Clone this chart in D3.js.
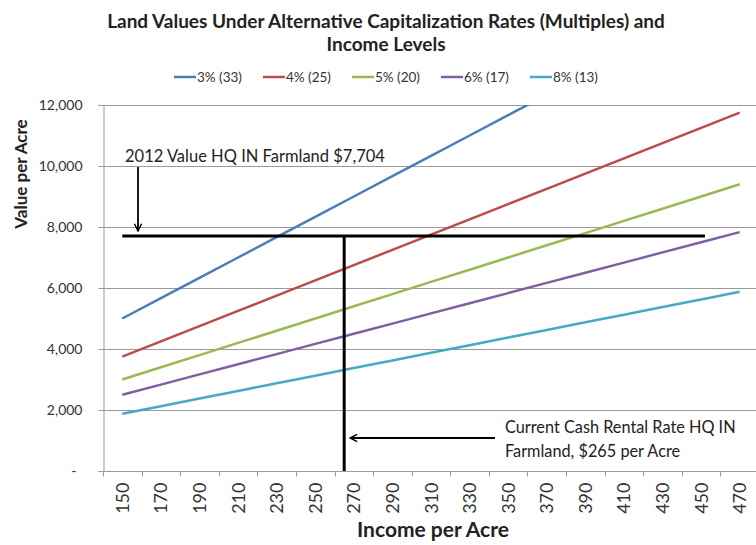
<!DOCTYPE html>
<html>
<head>
<meta charset="utf-8">
<script src="https://cdn.jsdelivr.net/npm/d3@7"></script>
<style>
  body { margin: 0; background: #fff; }
  svg { display: block; font-family: Lato, "Open Sans", sans-serif; }
</style>
</head>
<body>
<div id="chart"></div>
<script>
// income per acre categories
const incomes = [150, 170, 190, 210, 230, 250, 270, 290, 310, 330, 350, 370, 390, 410, 430, 450, 470];

// land value per acre for each cap rate
const rate3 = [5000, 5667, 6333, 7000, 7667, 8333, 9000, 9667, 10333, 11000, 11667, 12333];
const rate4 = [3750, 4250, 4750, 5250, 5750, 6250, 6750, 7250, 7750, 8250, 8750, 9250, 9750, 10250, 10750, 11250, 11750];
const rate5 = [3000, 3400, 3800, 4200, 4600, 5000, 5400, 5800, 6200, 6600, 7000, 7400, 7800, 8200, 8600, 9000, 9400];
const rate6 = [2500, 2833, 3167, 3500, 3833, 4167, 4500, 4833, 5167, 5500, 5833, 6167, 6500, 6833, 7167, 7500, 7833];
const rate8 = [1875, 2125, 2375, 2625, 2875, 3125, 3375, 3625, 3875, 4125, 4375, 4625, 4875, 5125, 5375, 5625, 5875];

const seriesNames = ["3% (33)", "4% (25)", "5% (20)", "6% (17)", "8% (13)"];
const seriesColors = ["#4a7ebb", "#be4b48", "#98b954", "#7d60a0", "#46aac5"];
const yTicks = [0, 2000, 4000, 6000, 8000, 10000, 12000];

// reference marks
const landValue2012 = 7704;
const rentalRate = 265;
const refLineStart = 150, refLineEnd = 452;

const W = 756, H = 545;
const plot = {left: 103, top: 105, right: 759, bottom: 471};

const svg = d3.select("#chart").append("svg")
    .attr("width", W)
    .attr("height", H);

const x = d3.scaleLinear().domain([140, 480]).range([plot.left, plot.right]);
const y = d3.scaleLinear().domain([0, 12000]).range([plot.bottom, plot.top]);

// title
svg.append("text")
  .attr("x", 386).attr("y", 28)
  .attr("text-anchor", "middle")
  .style("font-weight", "bold").style("font-size", "19px").style("fill", "#222")
  .text("Land Values Under Alternative Capitalization Rates (Multiples)  and");
svg.append("text")
  .attr("x", 386).attr("y", 51)
  .attr("text-anchor", "middle")
  .style("font-weight", "bold").style("font-size", "19px").style("fill", "#222")
  .text("Income Levels");

// legend
const legend = svg.append("g");
seriesNames.forEach((name, i) => {
  const lx = 174 + i * 89;
  legend.append("line")
    .attr("x1", lx).attr("x2", lx + 22)
    .attr("y1", 77).attr("y2", 77)
    .attr("stroke", seriesColors[i]).attr("stroke-width", 2.5);
  legend.append("text")
    .attr("x", lx + 23).attr("y", 82)
    .style("font-size", "13.5px").style("fill", "#333")
    .text(name);
});

// gridlines
svg.append("g").selectAll("line")
  .data(yTicks.slice(1))
  .enter().append("line")
    .attr("x1", plot.left).attr("x2", W)
    .attr("y1", d => y(d) + 0.5).attr("y2", d => y(d) + 0.5)
    .attr("stroke", "#9a9a9a").attr("stroke-width", 1);

// y axis
const yAxis = svg.append("g")
  .attr("transform", "translate(" + (plot.left + 0.5) + ",0)")
  .call(d3.axisLeft(y).tickValues(yTicks).tickSize(5).tickPadding(16)
    .tickFormat(d => d === 0 ? "-" : d3.format(",")(d)));
yAxis.select(".domain").attr("stroke", "#9a9a9a");
yAxis.selectAll(".tick line").attr("stroke", "#9a9a9a");
yAxis.selectAll(".tick text")
  .style("font-size", "14px").style("fill", "#333").style("font-family", "Lato, sans-serif");
yAxis.selectAll(".tick text").filter(d => d === 0).attr("dx", -6);

// x axis: ticks at category boundaries, labels at category centres
const boundaries = incomes.map(v => v - 10);
const xAxis = svg.append("g")
  .attr("transform", "translate(0," + (plot.bottom + 0.5) + ")");
xAxis.append("line")
  .attr("x1", plot.left).attr("x2", W)
  .attr("stroke", "#9a9a9a");
xAxis.selectAll(".bt")
  .data(boundaries)
  .enter().append("line")
    .attr("x1", d => Math.round(x(d)) + 0.5).attr("x2", d => Math.round(x(d)) + 0.5)
    .attr("y1", 0).attr("y2", 5)
    .attr("stroke", "#9a9a9a");
xAxis.selectAll(".lbl")
  .data(incomes)
  .enter().append("text")
    .attr("transform", d => "translate(" + (x(d) + 6.5) + ",11) rotate(-90)")
    .attr("text-anchor", "end")
    .style("font-size", "18px").style("fill", "#333")
    .text(d => d);

// axis titles
svg.append("text")
  .attr("transform", "translate(27,174) rotate(-90)")
  .attr("text-anchor", "middle")
  .style("font-weight", "bold").style("font-size", "17px").style("fill", "#222")
  .text("Value per Acre");
svg.append("text")
  .attr("x", 433).attr("y", 537)
  .attr("text-anchor", "middle")
  .style("font-weight", "bold").style("font-size", "21px").style("fill", "#222")
  .text("Income per Acre");

// series lines
svg.append("clipPath").attr("id", "clip")
  .append("rect")
    .attr("x", plot.left).attr("y", plot.top)
    .attr("width", plot.right - plot.left).attr("height", plot.bottom - plot.top);

const allSeries = [rate3, rate4, rate5, rate6, rate8];
const line = d3.line()
  .x((d, i) => x(incomes[i]))
  .y(d => y(d));

svg.append("g").attr("clip-path", "url(#clip)")
  .selectAll("path")
  .data(allSeries)
  .enter().append("path")
    .attr("d", line)
    .attr("fill", "none")
    .attr("stroke", (d, i) => seriesColors[i])
    .attr("stroke-width", 2.5);

// reference lines
svg.append("line")
  .attr("x1", x(refLineStart)).attr("x2", x(refLineEnd))
  .attr("y1", y(landValue2012)).attr("y2", y(landValue2012))
  .attr("stroke", "#000").attr("stroke-width", 3);
svg.append("line")
  .attr("x1", x(rentalRate)).attr("x2", x(rentalRate))
  .attr("y1", y(landValue2012)).attr("y2", plot.bottom)
  .attr("stroke", "#000").attr("stroke-width", 3);

// arrows
const defs = svg.append("defs");
defs.append("marker")
  .attr("id", "arrow")
  .attr("viewBox", "0 0 10 10")
  .attr("refX", 9).attr("refY", 5)
  .attr("markerWidth", 9).attr("markerHeight", 9)
  .attr("markerUnits", "userSpaceOnUse")
  .attr("orient", "auto")
  .append("path")
    .attr("d", "M1,1 L9,5 L1,9")
    .attr("fill", "none").attr("stroke", "#000").attr("stroke-width", 1.6);

svg.append("line")
  .attr("x1", 138).attr("x2", 138)
  .attr("y1", 167).attr("y2", 231)
  .attr("stroke", "#000").attr("stroke-width", 1.8)
  .attr("marker-end", "url(#arrow)");
svg.append("line")
  .attr("x1", 495).attr("x2", 350)
  .attr("y1", 438).attr("y2", 438)
  .attr("stroke", "#000").attr("stroke-width", 1.8)
  .attr("marker-end", "url(#arrow)");

// annotation text
svg.append("text")
  .attr("x", 125).attr("y", 162)
  .style("font-size", "16.5px").style("fill", "#222")
  .text("2012 Value HQ IN Farmland $7,704");
svg.append("text")
  .attr("x", 505).attr("y", 433)
  .style("font-size", "16.3px").style("fill", "#222")
  .text("Current Cash Rental Rate HQ IN");
svg.append("text")
  .attr("x", 505).attr("y", 457)
  .style("font-size", "16.3px").style("fill", "#222")
  .text("Farmland, $265 per Acre");
</script>
</body>
</html>
